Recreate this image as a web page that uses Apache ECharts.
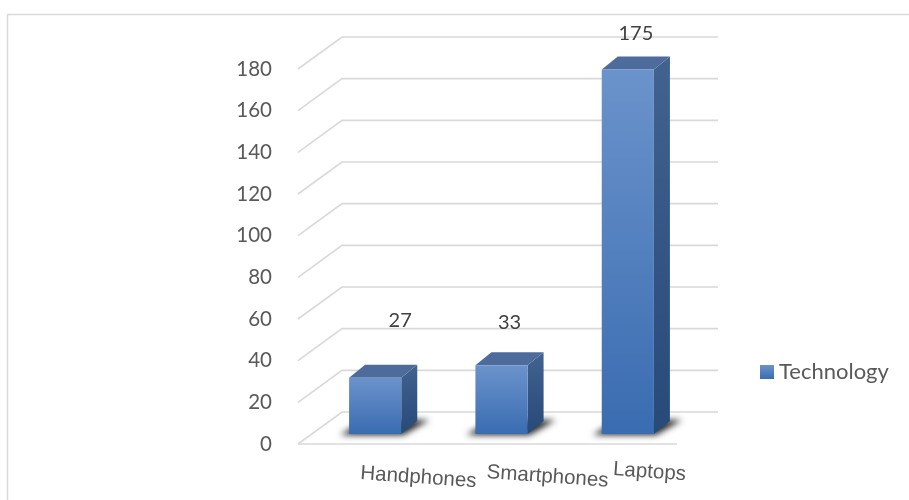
<!DOCTYPE html>
<html>
<head>
<meta charset="utf-8">
<script src="https://cdn.jsdelivr.net/npm/echarts@6/dist/echarts.min.js"></script>
<style>
  html, body { margin: 0; padding: 0; background: #ffffff; }
  #chart { width: 909px; height: 500px; }
</style>
</head>
<body>
<div id="chart"></div>
<script>
// Units of technology owned, by device type
const categories = ['Handphones', 'Smartphones', 'Laptops'];
const technology = [27, 33, 175];
const yTicks = [0, 20, 40, 60, 80, 100, 120, 140, 160, 180];
const seriesName = 'Technology';

// Value labels sit above each bar top; small per-bar nudges [dx, dy]
const labelNudge = [[17, -22], [0, -7], [0, 0]];
// Category label vertical nudges
const catNudge = [0, -1, -4];

// 3D projection: wall depth and bar front/back depth offsets (px)
const WALL = [44, -32];
const BAR_FRONT = [14, -10];
const BAR_DEPTH = [16, -13];

const gridColor = '#d9d9d9';
const textColor = '#595959';

const frontGrad = new echarts.graphic.LinearGradient(0, 0, 0, 1, [
  { offset: 0, color: '#6b93cb' },
  { offset: 1, color: '#3a6cb1' }
]);
const sideGrad = new echarts.graphic.LinearGradient(0, 0, 0, 1, [
  { offset: 0, color: '#42628f' },
  { offset: 1, color: '#284a79' }
]);
const legendGrad = new echarts.graphic.LinearGradient(0, 0, 0, 1, [
  { offset: 0, color: '#6b93cb' },
  { offset: 1, color: '#3a6cb1' }
]);

const chart = echarts.init(document.getElementById('chart'), null, { renderer: 'canvas' });

function renderWalls(params, api) {
  const v = api.value(0);
  const cs = params.coordSys;
  const L = cs.x, R = cs.x + cs.width;
  const y = api.coord([0, v])[1];
  const lineStyle = { stroke: gridColor, lineWidth: 1.6, fill: null };
  const children = [
    { type: 'polyline', shape: { points: [[L, y], [L + WALL[0], y + WALL[1]], [R + WALL[0] - 3, y + WALL[1]]] }, style: lineStyle }
  ];
  if (v === 0) {
    children.push({ type: 'line', shape: { x1: L, y1: y, x2: R, y2: y }, style: lineStyle });
  }
  return { type: 'group', children };
}

function renderBars(params, api) {
  const i = api.value(0);
  const v = api.value(1);
  const base = api.coord([i, 0]);
  const top = api.coord([i, v]);
  const band = api.size([1, 0])[0];
  const bw = band * 0.413;
  const cx = base[0] + BAR_FRONT[0];
  const x0 = cx - bw / 2, x1 = cx + bw / 2;
  const yb = base[1] + BAR_FRONT[1];
  const yt = top[1] + BAR_FRONT[1];
  const dx = BAR_DEPTH[0], dy = BAR_DEPTH[1];
  const nudge = labelNudge[params.dataIndex] || [0, 0];
  const FAR = 3000; // soft floor shadow: shape drawn off-canvas, only its blurred shadow lands here

  return {
    type: 'group',
    children: [
      {
        type: 'polygon',
        shape: { points: [[x0 - 9 - FAR, yb + 1], [x1 + 2 - FAR, yb + 1], [x1 + dx + 12 - FAR, yb + dy - 1], [x0 + dx - FAR, yb + dy - 1]] },
        style: { fill: '#000', shadowBlur: 6, shadowColor: 'rgba(0,0,0,0.85)', shadowOffsetX: FAR, shadowOffsetY: 0 }
      },
      {
        type: 'polygon',
        shape: { points: [[x1, yt], [x1 + dx, yt + dy], [x1 + dx, yb + dy], [x1, yb]] },
        style: { fill: sideGrad }
      },
      {
        type: 'polygon',
        shape: { points: [[x0, yt], [x1, yt], [x1 + dx, yt + dy], [x0 + dx, yt + dy]] },
        style: { fill: '#4d6c9b' }
      },
      {
        type: 'rect',
        shape: { x: x0, y: yt, width: bw, height: yb - yt },
        style: { fill: frontGrad }
      },
      {
        type: 'text',
        x: cx + dx / 2 + nudge[0],
        y: yt + dy / 2 - 29 + nudge[1],
        style: {
          text: String(v), align: 'center', verticalAlign: 'middle',
          fontSize: 20, fontFamily: 'Lato', fill: '#404040'
        }
      },
      {
        type: 'text',
        x: base[0],
        y: 463 + (catNudge[i] || 0),
        rotation: -0.07,
        style: {
          text: categories[i], align: 'left', verticalAlign: 'top',
          fontSize: 20.5, fontFamily: 'Liberation Sans', fill: textColor
        }
      }
    ]
  };
}

const option = {
  backgroundColor: '#ffffff',
  animation: false,
  grid: { left: 298, top: 69, width: 379, height: 375 },
  legend: {
    data: [{ name: seriesName, itemStyle: { color: legendGrad } }],
    left: 755, top: 356,
    icon: 'rect', itemWidth: 14, itemHeight: 14, itemGap: 5,
    textStyle: { fontSize: 22, color: textColor, fontFamily: 'Lato' }
  },
  xAxis: {
    type: 'category',
    data: categories,
    axisLine: { show: false },
    axisTick: { show: false },
    axisLabel: { show: false },
    splitLine: { show: false }
  },
  yAxis: {
    type: 'value',
    min: 0, max: 180, interval: 20,
    axisLine: { show: false },
    axisTick: { show: false },
    splitLine: { show: false },
    axisLabel: { margin: 26, fontSize: 20.5, color: textColor, fontFamily: 'Lato' }
  },
  graphic: [
    {
      type: 'rect',
      shape: { x: 7.5, y: 14.5, width: 1200, height: 1200 },
      style: { fill: null, stroke: gridColor, lineWidth: 1.5 },
      silent: true, z: -10
    }
  ],
  series: [
    {
      type: 'custom',
      name: 'walls',
      renderItem: renderWalls,
      data: yTicks.map(t => [t]),
      encode: { y: 0 },
      silent: true,
      z: 1
    },
    {
      type: 'custom',
      name: seriesName,
      renderItem: renderBars,
      itemStyle: { color: '#4a7bbf' },
      data: technology.map((v, i) => [i, v]),
      encode: { x: 0, y: 1 },
      z: 2
    }
  ]
};

chart.setOption(option);
</script>
</body>
</html>
